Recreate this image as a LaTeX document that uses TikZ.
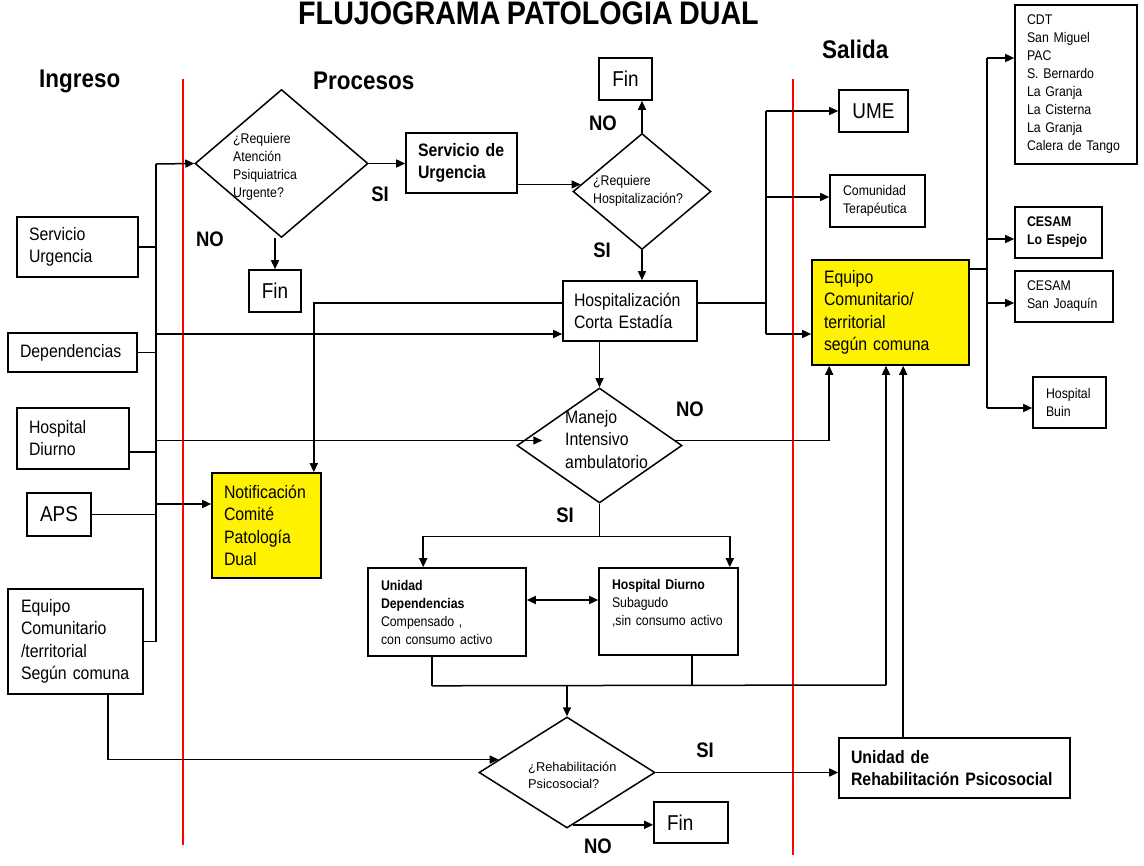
\documentclass[tikz,border=0pt]{standalone}
\usepackage{fontspec}
\setmainfont{Liberation Sans}[FakeStretch=0.88, WordSpace=0.8]
\newfontfamily\plainsans{Liberation Sans}
\usetikzlibrary{shapes.geometric,arrows.meta,calc}
\tikzset{
  box/.style={draw, line width=1.6pt, inner ysep=0pt, align=left},
  cbox/.style={draw, line width=1.6pt, inner sep=0pt, align=center},
  ylw/.style={fill=yellow},
  dia/.style={draw, diamond, line width=1.5pt, inner sep=0pt},
  dtext/.style={inner sep=0pt, align=left, anchor=north west},
  lbl/.style={font=\fontsize{21}{24}\selectfont\bfseries, inner sep=0pt},
  hdr/.style={font=\fontsize{25.5}{28}\selectfont\bfseries, inner sep=0pt, anchor=base west},
  ln/.style={line width=1.5pt},
  arr/.style={line width=1.5pt, -{Triangle[length=9pt,width=8pt]}},
  darr/.style={line width=1.5pt, {Triangle[length=9pt,width=8pt]}-{Triangle[length=9pt,width=8pt]}},
  redline/.style={color=red, line width=1.2pt},
  fa/.style={font=\fontsize{14}{18}\selectfont},
  fb/.style={font=\fontsize{18}{22}\selectfont},
  fc/.style={font=\fontsize{18}{22.5}\selectfont},
  fbb/.style={font=\fontsize{18}{22}\selectfont\bfseries},
  fd/.style={font=\fontsize{21.5}{24}\selectfont},
}
\begin{document}
\begin{tikzpicture}[x=1pt,y=-1pt]
\fill[white] (0,0) rectangle (1144,866);
\useasboundingbox (0,0) rectangle (1144,866);

% title and headers
\node[inner sep=0pt, anchor=base west, font=\fontsize{32.6}{36}\selectfont\bfseries] (title) at (298,25) {FLUJOGRAMA PATOLOGIA DUAL};
\node[hdr] (ing) at (39,88) {Ingreso};
\node[hdr] (proc) at (313,90) {Procesos};
\node[hdr] (sal) at (822,59) {Salida};

% red separators
\draw[redline] (183,79) -- (183,845);
\draw[redline] (793,79) -- (793,855);

% left column
\node[box, fb, minimum height=60, text width=97, inner xsep=12] (su) at (77.5,247) {Servicio\\Urgencia};
\node[box, fb, minimum height=39, text width=105, inner xsep=12] (dep) at (72.5,352.5) {Dependencias};
\node[box, fb, minimum height=61, text width=88, inner xsep=12] (hd) at (73,438.5) {Hospital\\Diurno};
\node[cbox, fd, minimum height=43, minimum width=64] (aps) at (59,514.5) {APS};
\node[box, fc, minimum height=105, text width=109, inner xsep=13] (eqL) at (75.5,641.5) {Equipo\\Comunitario\\/territorial\\Según comuna};

% processes
\node[dia, minimum width=173, minimum height=148] (d1) at (281.5,163.5) {};
\node[dtext, fa] (d1t) at (233,130.4) {\strut ¿Requiere\\Atención\\Psiquiatrica\\Urgente?};
\node[cbox, fd, minimum width=52, minimum height=42] (fin1) at (275,291) {Fin};
\node[box, fbb, minimum height=60, text width=87, inner xsep=12] (sdu) at (461.5,163) {Servicio de\\Urgencia};
\node[dia, minimum width=138, minimum height=116] (d2) at (642,191.5) {};
\node[dtext, fa] (d2t) at (593,172.4) {\strut ¿Requiere\\Hospitalización?};
\node[cbox, fd, minimum width=53, minimum height=42] (fin2) at (625.5,79) {Fin};
\node[box, fb, minimum height=60, text width=112, inner xsep=11] (hce) at (630,311) {Hospitalización\\Corta Estadía};
\node[box, ylw, fc, minimum height=105, text width=85, inner xsep=12] (notif) at (266.5,525.5) {Notificación\\Comité\\Patología\\Dual};
\node[dia, minimum width=165, minimum height=115] (d3) at (599.5,445.5) {};
\node[dtext, fc] (d3t) at (565,407.25) {\strut Manejo\\Intensivo\\ambulatorio};
\node[box, fa, minimum height=88, text width=132, inner xsep=13] (ud) at (447,612) {\textbf{Unidad}\\\textbf{Dependencias}\\Compensado ,\\con consumo activo};
\node[box, fa, minimum height=87, text width=113, inner xsep=13] (hdi) at (668.5,611.5) {\textbf{Hospital Diurno}\\Subagudo\\,sin consumo activo\\\mbox{}};
\node[dia, minimum width=176, minimum height=111] (d4) at (567,772.5) {};
\node[dtext, font=\plainsans\fontsize{12.8}{17.5}\selectfont] (d4t) at (528,758.75) {\strut ¿Rehabilitación\\Psicosocial?};
\node[box, fd, minimum height=41, text width=48, inner xsep=13] (fin3) at (691,822.5) {Fin};

% exits
\node[cbox, fd, minimum width=69, minimum height=42] (ume) at (873.5,111) {UME};
\node[box, fa, minimum height=52, text width=69, inner xsep=13] (ct) at (877.5,201) {Comunidad\\Terapéutica};
\node[box, ylw, fc, minimum height=105, text width=133, inner xsep=12] (eqR) at (890.5,312.5) {Equipo\\Comunitario/\\territorial\\según comuna};
\node[box, fbb, minimum height=60, text width=207, inner xsep=12] (rehab) at (954.5,768) {Unidad de\\Rehabilitación Psicosocial};
\node[box, fa, minimum height=159, text width=98, inner xsep=12] (cdt) at (1076,84.5) {CDT\\San Miguel\\PAC\\S. Bernardo\\La Granja\\La Cisterna\\La Granja\\Calera de Tango};
\node[box, font=\fontsize{14}{18}\selectfont\bfseries, minimum height=51, text width=63, inner xsep=12] (cle) at (1058.5,232.5) {CESAM\\Lo Espejo};
\node[box, fa, minimum height=51, text width=74, inner xsep=12] (csj) at (1064,296.5) {CESAM\\San Joaquín};
\node[box, fa, minimum height=51, text width=47, inner xsep=13] (hb) at (1069.5,402.5) {Hospital\\Buin};

% labels
\node[lbl] (si1) at (380,194) {SI};
\node[lbl] (no1) at (210,239) {NO};
\node[lbl] (no2) at (603,123) {NO};
\node[lbl] (si2) at (602,250) {SI};
\node[lbl] (no3) at (690,409) {NO};
\node[lbl] (si3) at (565,515) {SI};
\node[lbl] (si4) at (705,750) {SI};
\node[lbl] (no4) at (598,846) {NO};

% left bus
\coordinate (bt) at (156,164);
\coordinate (bb) at (156,642);
\draw[ln] (bt) -- (bb);
\draw[arr] (bt) -- (d1.west);
\draw[ln] (su.east) -- (su.east -| bt);
\draw[ln] (dep.east) -- (dep.east -| bt);
\coordinate (h1) at ($(hd.east)+(0,13.5)$);
\draw[ln] (h1) -- (h1 -| bt);
\draw[ln] (aps.east) -- (aps.east -| bt);
\draw[ln] (eqL.east) -- (eqL.east -| bt);
\coordinate (h2) at ($(hce.west)+(0,23)$);
\draw[arr] (h2 -| bt) -- (h2);
\coordinate (m1) at ($(d3.west)+(26,-5)$);
\draw[arr] (m1 -| bt) -- (m1);
\coordinate (n1) at ($(notif.west)+(0,-21.5)$);
\draw[arr] (n1 -| bt) -- (n1);

% decision 1
\draw[arr] (d1.east) -- (d1.east -| sdu.west);
\draw[arr] (fin1.north |- d1.south) -- (fin1.north);
\coordinate (s1) at ($(d2.west)!0.12!(d2.north)$);
\draw[arr] (s1 -| sdu.east) -- (s1);
\draw[arr] (d2.north) -- (d2.north |- fin2.south);
\draw[arr] (d2.south) -- (d2.south |- hce.north);

% from hospitalizacion
\coordinate (h3) at ($(hce.west)+(0,-8)$);
\coordinate (n2) at ($(notif.north east)+(-8,0)$);
\draw[arr] (h3) -| (n2);
\coordinate (rb1) at (766,111);
\coordinate (rb2) at (766,334);
\draw[ln] (h3 -| hce.east) -- (h3 -| rb1);
\draw[ln] (rb1) -- (rb2);
\draw[arr] (rb1) -- (rb1 -| ume.west);
\coordinate (c1) at ($(ct.west)+(0,-4)$);
\draw[arr] (c1 -| rb1) -- (c1);
\draw[arr] (rb2) -- (rb2 -| eqR.west);
\draw[arr] (hce.south -| d3.north) -- (d3.north);

% manejo intensivo
\coordinate (m2) at ($(d3.east)!0.09!(d3.north)$);
\coordinate (e1) at ($(eqR.south west)+(18,0)$);
\draw[arr] (m2) -| (e1);
\coordinate (sp) at ($(d3.south)+(0,32.5)$);
\draw[ln] (d3.south) -- (sp);
\draw[arr] (sp) -| ($(ud.north west)+(56,0)$);
\draw[arr] (sp) -| ($(hdi.north east)+(-9,0)$);
\coordinate (u1) at ($(ud.east)+(0,-12)$);
\draw[darr] (u1) -- (u1 -| hdi.west);

% merge to rehab decision
\coordinate (jL) at ($(ud.south west)+(65,29)$);
\coordinate (jH) at ($(hdi.south west)+(94,29.5)$);
\coordinate (jR) at (886,685);
\draw[ln] (jL |- ud.south) -- (jL);
\draw[ln] (jH |- hdi.south) -- (jH);
\draw[ln] (jL) -- (jR);
\draw[arr] (jR) -- (jR |- eqR.south);
\draw[arr] (d4.north |- jL) -- (d4.north);
\coordinate (q1) at ($(d4.west)!0.23!(d4.north)$);
\draw[arr] ($(eqL.south west)+(101,0)$) |- (q1);
\draw[arr] (d4.east) -- (d4.east -| rehab.west);
\coordinate (r1) at ($(rehab.north west)+(65,0)$);
\draw[arr] (r1) -- (r1 |- eqR.south);
\coordinate (f1) at ($(d4.south)!0.07!(d4.east)$);
\draw[arr] (f1) -- (f1 -| fin3.west);

% right bus
\coordinate (e2) at ($(eqR.north east)+(0,10)$);
\coordinate (rb3) at (987,58);
\coordinate (rb4) at (987,408);
\draw[ln] (e2) -- (e2 -| rb3);
\draw[ln] (rb3) -- (rb4);
\draw[arr] (rb3) -- (rb3 -| cdt.west);
\coordinate (c2) at ($(cle.west)+(0,6.5)$);
\draw[arr] (c2 -| rb3) -- (c2);
\coordinate (c3) at ($(csj.west)+(0,6.5)$);
\draw[arr] (c3 -| rb3) -- (c3);
\draw[arr] (rb4) -- (rb4 -| hb.west);
\end{tikzpicture}
\end{document}
